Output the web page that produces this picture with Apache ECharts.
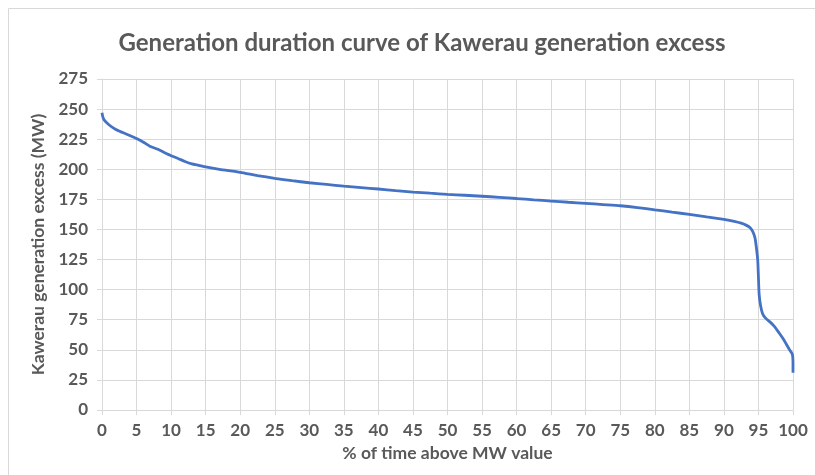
<!DOCTYPE html>
<html>
<head>
<meta charset="utf-8">
<script src="https://cdn.jsdelivr.net/npm/echarts@6/dist/echarts.min.js"></script>
<style>
  html, body { margin: 0; padding: 0; background: #fff; }
  #chart { width: 815px; height: 475px; }
</style>
</head>
<body>
<div id="chart"></div>
<script>
// Share of time (%) that the excess is at or above each MW value
const pctTime = [
  0, 0.1, 0.3, 1, 2, 3, 4, 5, 6, 7, 8, 9, 10, 11, 12, 13, 14, 15, 17, 20,
  22.5, 25, 27.5, 30, 32.5, 35, 37.5, 40, 42.5, 45, 47.5, 50, 52.5, 55, 57.5,
  60, 62.5, 65, 67.5, 70, 72.5, 75, 77.5, 80, 82.5, 85, 87.5, 90, 91.5, 92.5,
  93.2, 93.8, 94.2, 94.5, 94.7, 94.9, 95.0, 95.1, 95.3, 95.6, 96, 96.7, 97.3,
  98, 98.6, 99, 99.5, 99.9, 100, 100
];
// Kawerau generation excess (MW)
const excessMW = [
  247, 244, 241, 237, 233, 230.5, 228, 225.5, 222.5, 219, 216.8, 214, 211.3, 209, 206.5, 204.5, 203.3, 202, 200, 197.5,
  194.8, 192.5, 190.5, 188.8, 187.4, 186, 184.8, 183.6, 182.3, 181.1, 180.1, 179.2, 178.4, 177.6, 176.7,
  175.7, 174.6, 173.6, 172.6, 171.7, 170.7, 169.7, 168.2, 166.3, 164.4, 162.5, 160.4, 158.3, 156.7, 155.2,
  153.6, 151.5, 148, 143, 135, 124, 110, 96, 87, 80, 76.5, 73, 69.5,
  64, 59, 55, 50, 46.5, 40, 31
];
// Axis ticks
const xTicks = { min: 0, max: 100, step: 5 };
const yTicks = { min: 0, max: 275, step: 25 };

const seriesData = pctTime.map((p, i) => [p, excessMW[i]]);

const textColor = '#595959';
const gridColor = '#d9d9d9';
const font = 'Lato, "Open Sans", sans-serif';

const chart = echarts.init(document.getElementById('chart'), null, { renderer: 'canvas' });
chart.setOption({
  backgroundColor: '#ffffff',
  animation: false,
  graphic: [{
    type: 'rect',
    shape: { x: 8.5, y: 8.5, width: 830, height: 490 },
    style: { fill: 'none', stroke: '#d9d9d9', lineWidth: 1 },
    silent: true
  }],
  title: {
    text: 'Generation duration curve of Kawerau generation excess',
    left: 417,
    top: 26,
    textAlign: 'center',
    textStyle: { color: textColor, fontFamily: font, fontSize: 24, fontWeight: 'bold' }
  },
  grid: { left: 102, right: 22, top: 79, bottom: 65, containLabel: false },
  xAxis: {
    type: 'value',
    min: xTicks.min, max: xTicks.max, interval: xTicks.step,
    name: '% of time above MW value',
    nameLocation: 'middle',
    nameGap: 34,
    nameTextStyle: { color: textColor, fontFamily: font, fontSize: 17.5, fontWeight: 'bold' },
    axisLine: { show: true, lineStyle: { color: gridColor, width: 1 } },
    axisTick: { show: true, length: 5, lineStyle: { color: gridColor } },
    axisLabel: { color: textColor, fontFamily: font, fontSize: 17, fontWeight: 'bold', margin: 12 },
    splitLine: { show: true, lineStyle: { color: gridColor, width: 1 } }
  },
  yAxis: {
    type: 'value',
    min: yTicks.min, max: yTicks.max, interval: yTicks.step,
    name: 'Kawerau generation excess (MW)',
    nameLocation: 'middle',
    nameGap: 53,
    nameTextStyle: { color: textColor, fontFamily: font, fontSize: 17.5, fontWeight: 'bold' },
    axisLine: { show: true, lineStyle: { color: gridColor, width: 1 } },
    axisTick: { show: true, length: 5, lineStyle: { color: gridColor } },
    axisLabel: { color: textColor, fontFamily: font, fontSize: 17, fontWeight: 'bold', margin: 14 },
    splitLine: { show: true, lineStyle: { color: gridColor, width: 1 } }
  },
  series: [{
    type: 'line',
    data: seriesData,
    showSymbol: false,
    smooth: 0.2,
    lineStyle: { color: '#4472c4', width: 2.8 },
    z: 3
  }]
});
</script>
</body>
</html>
